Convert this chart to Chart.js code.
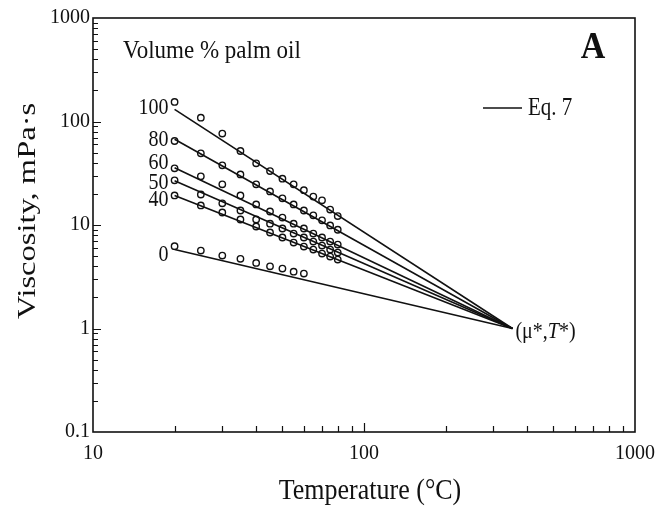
<!DOCTYPE html>
<html><head><meta charset="utf-8">
<script src="https://cdn.jsdelivr.net/npm/chart.js@4/dist/chart.umd.min.js"></script>
<style>html,body{margin:0;padding:0;background:#fff}</style>
</head><body>
<canvas id="c" width="665" height="506"></canvas>
<script>
// ---- data ----
const temps  = [20, 25, 30, 35, 40, 45, 50, 55, 60, 65, 70, 75, 80];
const temps0 = [20, 25, 30, 35, 40, 45, 50, 55, 60];
const mu100 = [154.6, 109, 76.4, 51.9, 39.4, 33.2, 28.0, 24.7, 21.7, 18.8, 17.3, 14.1, 12.2];
const mu80  = [64.8, 49.3, 37.7, 30.8, 24.7, 21.1, 18.1, 15.8, 13.8, 12.4, 11.1, 9.9, 9.0];
const mu60  = [35.3, 29.5, 24.7, 19.3, 15.8, 13.5, 11.8, 10.3, 9.25, 8.27, 7.57, 6.92, 6.47];
const mu50  = [27.0, 19.7, 16.2, 13.8, 11.3, 10.3, 9.25, 8.27, 7.57, 6.92, 6.33, 5.79, 5.42];
const mu40  = [19.3, 15.45, 13.2, 11.3, 9.67, 8.46, 7.57, 6.77, 6.19, 5.79, 5.30, 4.95, 4.63];
const mu0   = [6.24, 5.66, 5.07, 4.71, 4.30, 3.99, 3.79, 3.54, 3.39];
const seriesLabels = ['100', '80', '60', '50', '40', '0'];
// Eq. 7 lines: from T = 20 to the common point (mu*, T*)
const eqStartT = 20;
const eqStartMu = [131, 67.3, 35.8, 26.8, 19.3, 5.8];
const convT = 353, convMu = 1.0;
const xTicks = [10, 100, 1000];
const xTickLabels = ['10', '100', '1000'];
const yTicks = [0.1, 1, 10, 100, 1000];
const yTickLabels = ['0.1', '1', '10', '100', '1000'];

// style: vertical nudges of the series labels (px)
const labelNudge = [-2, 0, -5, 2, 4, 5];

const serif = '"Liberation Serif", "Times New Roman", serif';
const pointSets = [[temps, mu100], [temps, mu80], [temps, mu60], [temps, mu50], [temps, mu40], [temps0, mu0]];

const datasets = [];
eqStartMu.forEach((m, i) => {
  datasets.push({
    data: [{x: eqStartT, y: m}, {x: convT, y: convMu}],
    showLine: true, borderColor: '#111', borderWidth: 1.6, pointRadius: 0, fill: false
  });
});
pointSets.forEach(([t, m]) => {
  datasets.push({
    data: t.map((v, j) => ({x: v, y: m[j]})),
    showLine: false, pointRadius: 3.2, pointBorderWidth: 1.4,
    pointBorderColor: '#111', pointBackgroundColor: 'rgba(0,0,0,0)'
  });
});

function stretchText(ctx, txt, x, y, font, align, sy, rot) {
  ctx.save();
  ctx.translate(x, y);
  if (rot) ctx.rotate(rot);
  ctx.scale(rot ? sy : 1, rot ? 1 : sy);
  ctx.font = font; ctx.textAlign = align; ctx.textBaseline = 'middle';
  ctx.fillText(txt, 0, 0);
  ctx.restore();
}

const framePlugin = {
  id: 'frame',
  afterDraw(chart) {
    const {ctx, chartArea: a, scales: {x, y}} = chart;
    ctx.save();
    ctx.strokeStyle = '#111';
    ctx.lineWidth = 1.6;
    ctx.strokeRect(a.left, a.top, a.right - a.left, a.bottom - a.top);
    ctx.lineWidth = 1.2;
    ctx.beginPath();
    for (let d = 10; d < 1000; d *= 10) {
      for (let k = 1; k < 10; k++) {
        const v = d * k; if (v <= 10) continue;
        const px = Math.round(x.getPixelForValue(v)) + 0.5;
        const len = (k === 1) ? 9 : 6;
        ctx.moveTo(px, a.bottom); ctx.lineTo(px, a.bottom - len);
      }
    }
    for (let d = 0.1; d < 999; d *= 10) {
      for (let k = 1; k < 10; k++) {
        const v = d * k; if (v <= 0.1000001) continue;
        const py = Math.round(y.getPixelForValue(v)) + 0.5;
        const len = (k === 1) ? 8 : 5;
        ctx.moveTo(a.left, py); ctx.lineTo(a.left + len, py);
      }
    }
    ctx.stroke();

    ctx.fillStyle = '#111';
    // series labels
    seriesLabels.forEach((s, i) => {
      const px = x.getPixelForValue(eqStartT) - 6;
      const py = y.getPixelForValue(eqStartMu[i]) + labelNudge[i];
      stretchText(ctx, s, px, py, '20px ' + serif, 'right', 1.2);
    });
    // (mu*, T*)
    const cx = x.getPixelForValue(convT) + 3, cy = y.getPixelForValue(convMu) + 3;
    ctx.save();
    ctx.translate(cx, cy); ctx.scale(1, 1.2);
    ctx.textBaseline = 'middle'; ctx.textAlign = 'left';
    ctx.font = '20px ' + serif;
    let t1 = '(\u03bc*,'; ctx.fillText(t1, 0, 0);
    let w = ctx.measureText(t1).width;
    ctx.font = 'italic 20px ' + serif; ctx.fillText('T', w, 0);
    w += ctx.measureText('T').width;
    ctx.font = '20px ' + serif; ctx.fillText('*)', w, 0);
    ctx.restore();
    // legend Eq. 7
    ctx.lineWidth = 1.6;
    ctx.beginPath(); ctx.moveTo(483, 108); ctx.lineTo(522, 108); ctx.stroke();
    stretchText(ctx, 'Eq. 7', 528, 108, '21px ' + serif, 'left', 1.2);
    // annotations
    stretchText(ctx, 'Volume % palm oil', 123, 51, '23px ' + serif, 'left', 1.1);
    stretchText(ctx, 'A', 593, 48, 'bold 34px ' + serif, 'center', 1.1);
    // axis titles
    stretchText(ctx, 'Temperature (\u00b0C)', 370, 491, '26px ' + serif, 'center', 1.15);
    stretchText(ctx, 'Viscosity, mPa\u00b7s', 28, 211, '26px ' + serif, 'center', 1.25, -Math.PI / 2);
    ctx.restore();
  }
};

new Chart(document.getElementById('c'), {
  type: 'scatter',
  data: {datasets},
  options: {
    responsive: false, animation: false, devicePixelRatio: 1,
    layout: {padding: {left: 0, right: 29, top: 18, bottom: 0}},
    plugins: {legend: {display: false}, tooltip: {enabled: false}},
    scales: {
      x: {
        type: 'logarithmic', min: 10, max: 1000,
        grid: {display: false, drawTicks: false}, border: {display: false},
        afterBuildTicks: s => { s.ticks = xTicks.map(v => ({value: v})); },
        ticks: {callback: v => xTickLabels[xTicks.indexOf(v)], font: {family: serif, size: 20},
                color: '#111', padding: 10, maxRotation: 0, autoSkip: false},
        afterFit: s => { s.height = 74; }
      },
      y: {
        type: 'logarithmic', min: 0.1, max: 1000,
        grid: {display: false, drawTicks: false}, border: {display: false},
        afterBuildTicks: s => { s.ticks = yTicks.map(v => ({value: v})); },
        ticks: {callback: v => yTickLabels[yTicks.findIndex(t => Math.abs(t - v) < 1e-9 * t)], font: {family: serif, size: 20},
                color: '#111', padding: 3, autoSkip: false},
        afterFit: s => { s.width = 93; }
      }
    }
  },
  plugins: [framePlugin]
});
</script>
</body></html>
